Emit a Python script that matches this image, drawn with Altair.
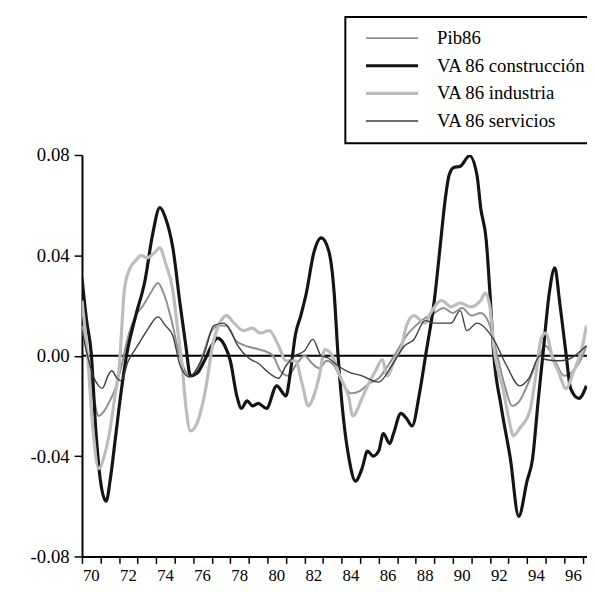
import altair as alt
import pandas as pd

# ---------------- data ----------------
series_names = ["Pib86", "VA 86 construcción", "VA 86 industria", "VA 86 servicios"]

years_constr = [1970.0, 1970.25, 1970.5, 1970.75, 1971.0, 1971.3, 1971.55, 1971.8, 1972.1, 1972.4,
                1972.9, 1973.4, 1973.8, 1974.2, 1974.5, 1974.9, 1975.3, 1975.6, 1975.85, 1976.2,
                1976.6, 1977.0, 1977.3, 1977.7, 1978.0, 1978.35, 1978.6, 1978.9, 1979.2, 1979.5,
                1979.95, 1980.5, 1981.0, 1981.25, 1981.5, 1981.8, 1982.1, 1982.5, 1982.9, 1983.3,
                1983.6, 1983.8, 1984.1, 1984.4, 1984.75, 1985.1, 1985.4, 1985.7, 1986.0, 1986.25,
                1986.6, 1986.8, 1987.2, 1987.5, 1987.8, 1988.2, 1988.55, 1989.0, 1989.35, 1989.55,
                1989.8, 1990.05, 1990.4, 1990.9, 1991.3, 1991.5, 1991.8, 1992.0, 1992.2, 1992.6,
                1993.1, 1993.55, 1994.0, 1994.3, 1994.6, 1994.85, 1995.2, 1995.5, 1995.75, 1996.1,
                1996.35, 1996.8, 1997.2]
vals_constr = [0.031, 0.014, 0.001, -0.030, -0.050, -0.058, -0.048, -0.033, -0.015, 0.000,
               0.016, 0.030, 0.048, 0.059, 0.055, 0.043, 0.020, 0.004, -0.008, -0.007,
               -0.002, 0.004, 0.007, 0.004, -0.002, -0.016, -0.021, -0.018, -0.020, -0.019,
               -0.021, -0.012, -0.016, -0.006, 0.008, 0.016, 0.025, 0.041, 0.047, 0.042,
               0.025, 0.001, -0.025, -0.041, -0.050, -0.045, -0.038, -0.040, -0.038, -0.031,
               -0.035, -0.031, -0.023, -0.025, -0.028, -0.015, 0.001, 0.022, 0.046, 0.060,
               0.072, 0.075, 0.0755, 0.0797, 0.072, 0.059, 0.046, 0.025, 0.001, -0.020,
               -0.041, -0.064, -0.050, -0.041, -0.018, 0.000, 0.025, 0.035, 0.022, 0.001,
               -0.013, -0.017, -0.012]

years_ind = [1970.0, 1970.3, 1970.6, 1970.9, 1971.2, 1971.5, 1971.8, 1972.0, 1972.3, 1972.6,
             1972.9, 1973.2, 1973.5, 1973.9, 1974.2, 1974.5, 1974.9, 1975.2, 1975.4, 1975.6,
             1975.85, 1976.2, 1976.6, 1977.1, 1977.5, 1977.8, 1978.2, 1978.7, 1979.2, 1979.6,
             1980.1, 1980.6, 1981.0, 1981.5, 1981.9, 1982.2, 1982.5, 1982.8, 1983.1, 1983.5,
             1983.9, 1984.4, 1984.6, 1985.1, 1985.4, 1985.8, 1986.2, 1986.45, 1986.9, 1987.2,
             1987.5, 1987.9, 1988.5, 1988.8, 1989.4, 1989.9, 1990.4, 1990.95, 1991.5, 1991.75,
             1992.0, 1992.2, 1992.7, 1993.1, 1993.25, 1993.6, 1994.15, 1994.5, 1994.75, 1995.0,
             1995.4, 1995.7, 1996.1, 1996.5, 1997.0, 1997.2]
vals_ind = [0.022, 0.000, -0.030, -0.045, -0.040, -0.030, -0.015, -0.005, 0.027, 0.035,
            0.038, 0.040, 0.039, 0.041, 0.043, 0.037, 0.026, 0.008, -0.004, -0.020,
            -0.030, -0.027, -0.016, 0.006, 0.014, 0.016, 0.013, 0.010, 0.011, 0.009,
            0.010, 0.004, -0.002, -0.002, -0.012, -0.020, -0.016, -0.008, 0.0025, 0.000,
            -0.008, -0.017, -0.024, -0.017, -0.012, -0.0065, -0.0015, -0.008, -0.001, 0.0026,
            0.012, 0.016, 0.013, 0.017, 0.022, 0.0195, 0.021, 0.0195, 0.022, 0.025,
            0.0195, 0.004, -0.013, -0.028, -0.032, -0.029, -0.022, -0.0065, 0.0065, 0.009,
            -0.0015, -0.0065, -0.013, -0.0065, 0.004, 0.012]

years_pib = [1970.0, 1970.3, 1970.6, 1970.9, 1971.2, 1971.5, 1971.8, 1972.1, 1972.5, 1972.9,
             1973.3, 1973.7, 1974.1, 1974.4, 1974.8, 1975.2, 1975.5, 1975.8, 1976.2, 1976.6,
             1977.0, 1977.4, 1977.8, 1978.3, 1978.8, 1979.3, 1979.8, 1980.3, 1980.7, 1981.1,
             1981.6, 1982.0, 1982.4, 1982.8, 1983.2, 1983.6, 1984.0, 1984.5, 1985.0, 1985.5,
             1986.0, 1986.5, 1987.0, 1987.5, 1988.0, 1988.5, 1989.0, 1989.5, 1990.0, 1990.5,
             1991.0, 1991.5, 1992.0, 1992.4, 1992.8, 1993.2, 1993.6, 1994.0, 1994.5, 1995.0,
             1995.5, 1996.0, 1996.5, 1997.0, 1997.2]
vals_pib = [0.012, 0.000, -0.015, -0.024, -0.022, -0.018, -0.013, -0.005, 0.008, 0.016,
            0.020, 0.025, 0.029, 0.025, 0.015, 0.002, -0.005, -0.008, -0.006, 0.002,
            0.010, 0.012, 0.012, 0.006, 0.004, 0.003, 0.002, 0.000, -0.006, -0.008,
            -0.003, 0.000, -0.003, -0.005, -0.002, -0.004, -0.010, -0.015, -0.014, -0.011,
            -0.009, -0.004, 0.002, 0.008, 0.012, 0.015, 0.017, 0.019, 0.017, 0.019,
            0.016, 0.017, 0.012, 0.000, -0.012, -0.020, -0.018, -0.012, -0.003, 0.004,
            -0.002, -0.008, -0.006, 0.000, 0.004]

years_serv = [1970.0, 1970.3, 1970.6, 1970.9, 1971.1, 1971.4, 1971.6, 1971.9, 1972.1, 1972.5,
              1973.0, 1973.5, 1974.1, 1974.5, 1974.9, 1975.3, 1975.8, 1976.2, 1976.6, 1977.1,
              1977.65, 1978.0, 1978.4, 1979.0, 1979.5, 1980.1, 1980.6, 1981.0, 1981.5, 1982.0,
              1982.45, 1982.9, 1983.3, 1983.8, 1984.4, 1985.1, 1986.0, 1986.7, 1987.4, 1987.9,
              1988.5, 1989.0, 1989.9, 1990.4, 1990.75, 1991.3, 1992.2, 1992.9, 1993.6, 1994.1,
              1994.7, 1995.0, 1995.7, 1996.2, 1997.2]
vals_serv = [0.010, 0.000, -0.008, -0.012, -0.013, -0.008, -0.006, -0.009, -0.010, -0.002,
             0.004, 0.010, 0.0155, 0.012, 0.008, -0.004, -0.0085, -0.005, 0.001, 0.012,
             0.013, 0.010, 0.004, -0.001, -0.003, -0.007, -0.009, -0.004, 0.000, 0.002,
             0.0065, 0.000, -0.001, -0.004, -0.0065, -0.008, -0.0105, -0.004, 0.004, 0.0065,
             0.014, 0.013, 0.013, 0.018, 0.010, 0.013, 0.0065, -0.004, -0.012, -0.009,
             0.000, -0.0015, -0.002, -0.0015, 0.004]

x_ticks = list(range(1970, 1998))
y_ticks = [-0.08, -0.04, 0.0, 0.04, 0.08]

# ---------------- build table ----------------
frames = []
for name, xs, ys in [("Pib86", years_pib, vals_pib),
                     ("VA 86 construcción", years_constr, vals_constr),
                     ("VA 86 industria", years_ind, vals_ind),
                     ("VA 86 servicios", years_serv, vals_serv)]:
    frames.append(pd.DataFrame({"serie": name, "t": xs, "v": ys}))
df = pd.concat(frames, ignore_index=True)

FONT = "Liberation Serif"
colors = ["#8e8e8e", "#141414", "#bcbcbc", "#3c3c3c"]
widths = [2.0, 3.2, 3.2, 1.4]

legend = alt.Legend(
    title=None, orient="none", legendX=267, legendY=-140,
    symbolType="M-0.1,0H9.5", symbolSize=121, labelOffset=62,
    labelFont=FONT, labelFontSize=19, labelColor="black", labelLimit=400,
    rowPadding=8, padding=12, strokeColor="black",
)

lines = alt.Chart(df).mark_line(interpolate="monotone", clip=True).encode(
    x=alt.X("t:Q", scale=alt.Scale(domain=[1970, 1970 + 512 / 18.8], nice=False, zero=False),
            axis=alt.Axis(values=x_ticks, title=None, grid=False,
                          labelExpr="datum.value % 2 == 0 && datum.value < 1997 ? substring(toString(datum.value), 2) : ''",
                          labelOffset=9, labelOverlap=False, labelFlush=False, labelBound=False,
                          tickSize=7, tickWidth=1.5, tickColor="black",
                          domainColor="black", domainWidth=2,
                          labelFont=FONT, labelFontSize=17, labelColor="black", labelPadding=4)),
    y=alt.Y("v:Q", scale=alt.Scale(domain=[-0.08, 0.08], nice=False),
            axis=alt.Axis(values=y_ticks, title=None, grid=False,
                          labelExpr="replace(format(datum.value, '.2f'), '\u2212', '-')",
                          tickSize=8, tickWidth=1.5, tickColor="black",
                          domainColor="black", domainWidth=2,
                          labelFont=FONT, labelFontSize=19, labelColor="black", labelPadding=5)),
    color=alt.Color("serie:N", scale=alt.Scale(domain=series_names, range=colors), legend=legend),
    strokeWidth=alt.StrokeWidth("serie:N", scale=alt.Scale(type="ordinal", domain=series_names, range=widths), legend=legend),
    order=alt.Order("t:Q"),
)

zero = alt.Chart(pd.DataFrame({"v": [0.0]})).mark_rule(color="black", strokeWidth=2).encode(y="v:Q")

chart = alt.layer(zero, lines).properties(
    width=512, height=407,
    autosize=alt.AutoSizeParams(type="none"),
    padding={"left": 75, "top": 145, "right": 0, "bottom": 32},
).configure_view(stroke=None).configure_legend(strokeWidth=2)

chart.save("out.html", embed_options={"renderer": "svg", "actions": False})
